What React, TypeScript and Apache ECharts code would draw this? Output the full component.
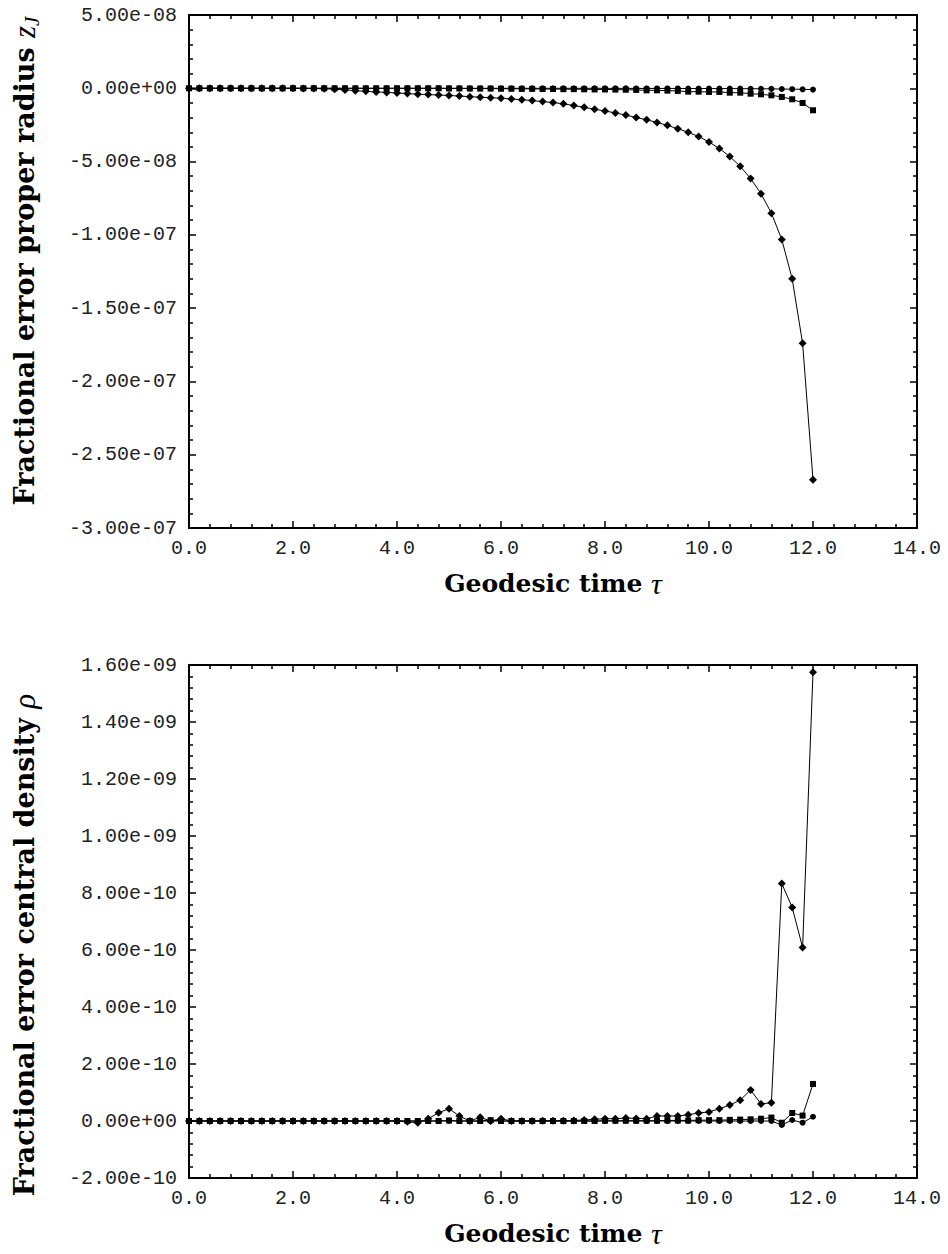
import React, { useEffect, useRef } from "react";
import * as echarts from "echarts";

// Geodesic time tau
const TAU = [
  0.0, 0.2, 0.4, 0.6, 0.8, 1.0, 1.2, 1.4, 1.6, 1.8,
  2.0, 2.2, 2.4, 2.6, 2.8, 3.0, 3.2, 3.4, 3.6, 3.8,
  4.0, 4.2, 4.4, 4.6, 4.8, 5.0, 5.2, 5.4, 5.6, 5.8,
  6.0, 6.2, 6.4, 6.6, 6.8, 7.0, 7.2, 7.4, 7.6, 7.8,
  8.0, 8.2, 8.4, 8.6, 8.8, 9.0, 9.2, 9.4, 9.6, 9.8,
  10.0, 10.2, 10.4, 10.6, 10.8, 11.0, 11.2, 11.4, 11.6, 11.8,
  12.0,
];

// Top panel: fractional error in proper radius, in units of 1e-9
const TOP_UNIT = 1e-9;
const TOP_CIRCLE = [
  0, 0, 0, 0, 0, 0, 0, 0, 0, 0,
  0, 0, 0, 0, 0, 0, 0, 0, 0, 0,
  0, 0, 0, 0, 0, 0, 0, 0, 0, 0,
  0, 0, 0, 0, 0, 0, 0, 0, 0, 0,
  -0.05, -0.05, -0.05, -0.1, -0.1, -0.1, -0.1, -0.1, -0.15, -0.15,
  -0.2, -0.2, -0.2, -0.25, -0.3, -0.3, -0.4, -0.5, -0.6, -0.7,
  -0.9,
];
const TOP_SQUARE = [
  0, 0, 0, 0, 0, 0, 0, 0, 0, 0,
  0, 0, 0, 0, 0, 0, 0, 0, 0, 0,
  0, 0, 0, 0, 0, -0.1, -0.1, -0.2, -0.2, -0.2,
  -0.3, -0.3, -0.4, -0.4, -0.5, -0.5, -0.6, -0.6, -0.7, -0.8,
  -0.8, -0.9, -1.0, -1.1, -1.4, -1.4, -1.6, -1.8, -2.3, -2.3,
  -2.5, -2.5, -3.0, -3.0, -3.7, -4.1, -4.8, -5.9, -7.5, -10.0,
  -15.0,
];
const TOP_DIAMOND = [
  0, 0, 0, 0, 0, 0, 0, 0, 0, 0,
  -0.05, -0.1, -0.2, -0.3, -0.6, -1.1, -1.6, -2.1, -2.5, -2.8,
  -3.2, -3.6, -4.1, -4.3, -4.6, -4.9, -5.3, -5.7, -6.1, -6.4,
  -6.8, -7.3, -7.8, -8.4, -9.1, -9.7, -10.6, -11.8, -13.0, -14.3,
  -15.5, -16.8, -18.3, -19.9, -21.5, -23.3, -25.3, -27.6, -30.0, -32.9,
  -36.6, -41.1, -46.6, -53.2, -61.6, -71.9, -85.2, -103.2, -130.0, -174.0,
  -267.0,
];

// Bottom panel: fractional error in central density, in units of 1e-11
const BOT_UNIT = 1e-11;
const BOT_CIRCLE = [
  0, 0, 0, 0, 0, 0, 0, 0, 0, 0,
  0, 0, 0, 0, 0, 0, 0, 0, 0, 0,
  0, 0, 0, 0, 0, 0, 0, 0, 0, 0,
  0, 0, 0, 0, 0, 0, 0, 0, 0, 0,
  0, 0, 0, 0, 0, 0, 0, 0, 0, 0,
  0, 0, 0, 0, 0, 0, 0, -1.4, 0.35, -0.6,
  1.5,
];
const BOT_SQUARE = [
  0, 0, 0, 0, 0, 0, 0, 0, 0, 0,
  0, 0, 0, 0, 0, 0, 0, 0, 0, 0,
  0, 0, 0, 0, 0, 0.2, 0, 0, 0, 0.3,
  0, 0, 0, 0, 0, 0, 0, 0, 0, 0,
  0.1, 0.1, 0.1, 0.1, 0.1, 0.1, 0.2, 0.2, 0.2, 0.3,
  0.3, 0.3, 0.4, 0.5, 0.6, 0.8, 1.2, -0.6, 2.8, 1.9,
  13.0,
];
const BOT_DIAMOND = [
  0, 0, 0, 0, 0, 0, 0, 0, 0, 0,
  0, 0, 0, 0, 0, 0, 0, 0, 0, 0,
  0, -0.3, -0.6, 0.8, 2.9, 4.3, 1.75, 0, 1.3, 0,
  0.8, 0, 0, 0, 0.1, 0.1, 0.1, 0.2, 0.35, 0.6,
  0.8, 0.8, 1.05, 0.9, 0.8, 1.75, 1.75, 1.75, 2.2, 2.8,
  3.2, 4.3, 5.6, 7.3, 10.9, 6.0, 6.4, 83.3, 74.9, 60.9,
  157.5,
];

const X_TICKS = { min: 0, max: 14, interval: 2 };
const TOP_Y = { min: -300, max: 50, interval: 50 };
const BOT_Y = { min: -20, max: 160, interval: 20 };

const TICK_FONT = "'Liberation Mono', 'DejaVu Sans Mono', monospace";
const TITLE_FONT = "'DejaVu Serif', serif";
const MATH_FONT = "'Liberation Serif', serif";

function fmtExp(x: number): string {
  const s = x.toExponential(2);
  const [m, e] = s.split("e");
  const sign = e[0];
  const d = e.slice(1).padStart(2, "0");
  return `${m}e${sign}${d}`;
}

function xAxis(gridIndex: number, position: string, showLabel: boolean) {
  return {
    type: "value",
    gridIndex,
    position,
    ...X_TICKS,
    axisLine: { show: true, onZero: false, lineStyle: { color: "#000", width: 2 } },
    axisTick: { show: true, inside: true, length: 7, lineStyle: { color: "#000", width: 1.5 } },
    minorTick: { show: true, splitNumber: 5, length: 4, lineStyle: { color: "#000", width: 1.5 } },
    splitLine: { show: false },
    minorSplitLine: { show: false },
    axisLabel: {
      show: showLabel,
      margin: 10,
      fontFamily: TICK_FONT,
      fontSize: 20,
      color: "#222",
      formatter: (v: number) => v.toFixed(1),
    },
  };
}

function yAxis(gridIndex: number, position: string, showLabel: boolean, range: any, unit: number) {
  return {
    type: "value",
    gridIndex,
    position,
    ...range,
    axisLine: { show: true, onZero: false, lineStyle: { color: "#000", width: 2 } },
    axisTick: { show: true, inside: true, length: 7, lineStyle: { color: "#000", width: 1.5 } },
    minorTick: { show: true, splitNumber: 5, length: 4, lineStyle: { color: "#000", width: 1.5 } },
    splitLine: { show: false },
    minorSplitLine: { show: false },
    axisLabel: {
      show: showLabel,
      margin: 12,
      fontFamily: TICK_FONT,
      fontSize: 20,
      color: "#222",
      formatter: (v: number) => fmtExp(v * unit),
    },
  };
}

function mkSeries(values: number[], symbol: string, size: number, xi: number, yi: number) {
  return {
    type: "line",
    xAxisIndex: xi,
    yAxisIndex: yi,
    data: TAU.map((t, i) => [t, values[i]]),
    symbol,
    symbolSize: size,
    showAllSymbol: true,
    itemStyle: { color: "#000" },
    lineStyle: { color: "#000", width: 1 },
    z: 3,
  };
}

const richX = {
  b: { fontFamily: TITLE_FONT, fontWeight: "bold", fontSize: 25, lineHeight: 34, color: "#000" },
  i: { fontFamily: MATH_FONT, fontStyle: "italic", fontSize: 30, lineHeight: 34, color: "#000" },
};
const richY = {
  b: { fontFamily: TITLE_FONT, fontWeight: "bold", fontSize: 27, lineHeight: 36, color: "#000" },
  i: { fontFamily: MATH_FONT, fontStyle: "italic", fontSize: 31, lineHeight: 36, color: "#000" },
  s: { fontFamily: MATH_FONT, fontStyle: "italic", fontSize: 21, lineHeight: 36, verticalAlign: "bottom", color: "#000" },
};

export default function App() {
  const ref = useRef<HTMLDivElement>(null);
  useEffect(() => {
    document.body.style.margin = "0";
    if (!ref.current) return;
    const chart = echarts.init(ref.current, undefined, { renderer: "svg" });
    const option: any = {
      animation: false,
      backgroundColor: "#fff",
      grid: [
        { left: 189, top: 15, width: 728, height: 513 },
        { left: 189, top: 665, width: 728, height: 513 },
      ],
      xAxis: [
        xAxis(0, "bottom", true),
        xAxis(0, "top", false),
        xAxis(1, "bottom", true),
        xAxis(1, "top", false),
      ],
      yAxis: [
        yAxis(0, "left", true, TOP_Y, TOP_UNIT),
        yAxis(0, "right", false, TOP_Y, TOP_UNIT),
        yAxis(1, "left", true, BOT_Y, BOT_UNIT),
        yAxis(1, "right", false, BOT_Y, BOT_UNIT),
      ],
      series: [
        mkSeries(TOP_DIAMOND, "diamond", 8, 0, 0),
        mkSeries(TOP_SQUARE, "rect", 6, 0, 0),
        mkSeries(TOP_CIRCLE, "circle", 6, 0, 0),
        mkSeries(BOT_DIAMOND, "diamond", 8, 2, 2),
        mkSeries(BOT_SQUARE, "rect", 6, 2, 2),
        mkSeries(BOT_CIRCLE, "circle", 6, 2, 2),
      ],
      graphic: [
        {
          type: "text",
          x: 553,
          y: 583,
          style: {
            text: "{b|Geodesic time }{i|τ}",
            rich: richX,
            align: "center",
            verticalAlign: "middle",
          },
        },
        {
          type: "text",
          x: 553,
          y: 1233,
          style: {
            text: "{b|Geodesic time }{i|τ}",
            rich: richX,
            align: "center",
            verticalAlign: "middle",
          },
        },
        {
          type: "text",
          x: 24,
          y: 261,
          rotation: Math.PI / 2,
          style: {
            text: "{b|Fractional error proper radius }{i|z}{s|J}",
            rich: richY,
            align: "center",
            verticalAlign: "middle",
          },
        },
        {
          type: "text",
          x: 24,
          y: 945,
          rotation: Math.PI / 2,
          style: {
            text: "{b|Fractional error central density }{i|ρ}",
            rich: richY,
            align: "center",
            verticalAlign: "middle",
          },
        },
      ],
    };
    chart.setOption(option);
    return () => chart.dispose();
  }, []);
  return <div ref={ref} style={{ width: 948, height: 1254 }} />;
}
